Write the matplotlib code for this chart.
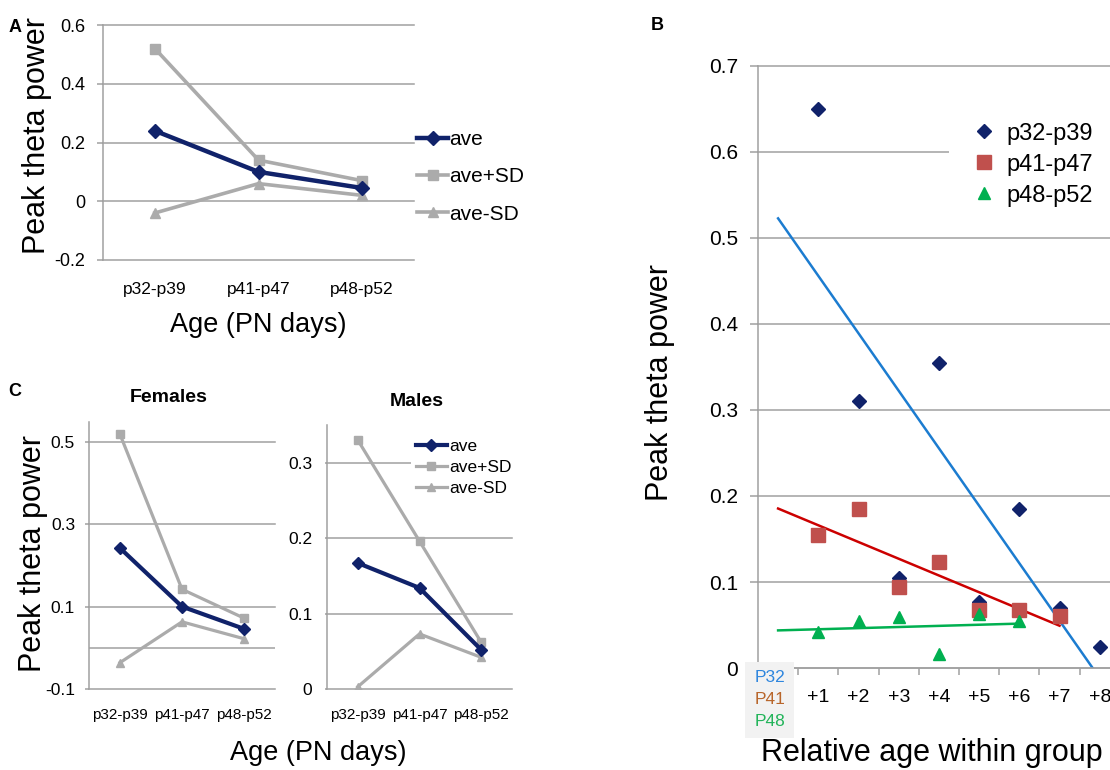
import matplotlib
matplotlib.use('Agg')
import matplotlib.pyplot as plt
from matplotlib import font_manager
from matplotlib.patches import Rectangle
import numpy as np

names = {f.name for f in font_manager.fontManager.ttflist}
MAIN = 'Liberation Sans' if 'Liberation Sans' in names else 'DejaVu Sans'
plt.rcParams['font.family'] = [MAIN, 'DejaVu Sans']

# ---------------- data ----------------
age_groups = ['p32-p39', 'p41-p47', 'p48-p52']
series_names = ['ave', 'ave+SD', 'ave-SD']

a_ave = [0.24, 0.10, 0.045]
a_plus = [0.52, 0.14, 0.07]
a_minus = [-0.04, 0.06, 0.02]

f_ave = [0.242, 0.100, 0.046]
f_plus = [0.518, 0.142, 0.072]
f_minus = [-0.036, 0.063, 0.022]

m_ave = [0.167, 0.134, 0.052]
m_plus = [0.330, 0.196, 0.062]
m_minus = [0.003, 0.073, 0.042]

rel_age_labels = ['+1', '+2', '+3', '+4', '+5', '+6', '+7', '+8']
b_groups = ['p32-p39', 'p41-p47', 'p48-p52']
b_p32_x = [1, 2, 3, 4, 5, 6, 7, 8]
b_p32_y = [0.65, 0.31, 0.105, 0.355, 0.077, 0.185, 0.07, 0.025]
b_p41_x = [1, 2, 3, 4, 5, 6, 7]
b_p41_y = [0.155, 0.185, 0.094, 0.123, 0.068, 0.068, 0.06]
b_p48_x = [1, 2, 3, 4, 5, 6]
b_p48_y = [0.042, 0.055, 0.059, 0.016, 0.063, 0.055]
box_labels = ['P32', 'P41', 'P48']

# ---------------- style ----------------
NAVY = '#10226A'
GREY = '#ABABAB'
GRID = '#A0A0A0'
RED_M = '#C0504D'
GREEN_M = '#00B050'
TREND = ['#1C7CD0', '#CC0000', '#00B050']
BOX_TXT = ['#2E86DE', '#B8652A', '#22B45A']

W, H = 1110, 770
fig = plt.figure(figsize=(W / 100, H / 100), dpi=100)


def ax_at(l, t, r, b):
    return fig.add_axes([l / W, 1 - b / H, (r - l) / W, (b - t) / H])


def fx(x):
    return x / W


def fy(y):
    return 1 - y / H


def line_panel(ax, ave, plus, minus, ylim, yticks, ytick_fs, cat_fs, cat_pad,
               ytick_len, ytick_pad, lw_a, lw_s, ms):
    x = np.arange(len(age_groups)) + 0.5
    ax.plot(x, plus, color=GREY, lw=lw_s, marker='s', ms=ms, mec=GREY, mfc=GREY,
            label=series_names[1], zorder=3)
    ax.plot(x, minus, color=GREY, lw=lw_s, marker='^', ms=ms, mec=GREY, mfc=GREY,
            label=series_names[2], zorder=3)
    ax.plot(x, ave, color=NAVY, lw=lw_a, marker='D', ms=ms * 0.95, mec=NAVY, mfc=NAVY,
            label=series_names[0], zorder=4)
    ax.set_xlim(0, len(age_groups))
    ax.set_ylim(*ylim)
    ax.set_yticks(yticks)
    ax.set_yticklabels([('%g' % v) for v in yticks])
    ax.yaxis.grid(True, color=GRID, lw=1.1)
    for gl in ax.get_ygridlines():
        gl.set_clip_on(False)
    ax.set_axisbelow(True)
    for s in ['top', 'right', 'bottom']:
        ax.spines[s].set_visible(False)
    ax.spines['left'].set_color(GRID)
    ax.spines['left'].set_linewidth(1.1)
    ax.set_xticks(x)
    ax.set_xticklabels(age_groups)
    ax.tick_params(axis='x', length=0, pad=cat_pad, labelsize=cat_fs)
    ax.tick_params(axis='y', length=ytick_len, color=GRID, width=1.1, pad=ytick_pad,
                   labelsize=ytick_fs)
    ax.set_facecolor('none')


# ---------------- Panel A ----------------
axA = ax_at(103, 25, 414, 260)
line_panel(axA, a_ave, a_plus, a_minus, (-0.2, 0.6), [-0.2, 0, 0.2, 0.4, 0.6],
           13, 12.5, 16, 4.3, 8.5, 3.2, 2.6, 7)
hA, lA = axA.get_legend_handles_labels()
order = [2, 0, 1]
axA.legend([hA[i] for i in order], [lA[i] for i in order],
           loc='upper left', bbox_to_anchor=(fx(417), fy(130)),
           bbox_transform=fig.transFigure, frameon=False, borderpad=0,
           borderaxespad=0, handlelength=1.5, handletextpad=0.05,
           labelspacing=0.88, prop={'family': MAIN, 'size': 15})
fig.text(fx(15), fy(28), 'A', fontsize=13, fontweight='bold', ha='center', va='center')
fig.text(fx(37), fy(136), 'Peak theta power', fontsize=22, rotation=90,
         ha='center', va='center')
fig.text(fx(258), fy(325), 'Age (PN days)', fontsize=19.5, ha='center', va='center')

# ---------------- Panel C ----------------
axF = ax_at(89, 422, 275, 689)
line_panel(axF, f_ave, f_plus, f_minus, (-0.1, 0.548), [-0.1, 0.1, 0.3, 0.5],
           12.5, 11, 14, 3, 7, 3.0, 2.3, 6)
axF.axhline(0, color=GRID, lw=1.1, zorder=0.5)

axM = ax_at(327, 425, 512, 689)
line_panel(axM, m_ave, m_plus, m_minus, (0, 0.35), [0, 0.1, 0.2, 0.3],
           12.5, 11, 14, 1.5, 9, 3.0, 2.3, 6)
hM, lM = axM.get_legend_handles_labels()
legM = axM.legend([hM[i] for i in order], [lM[i] for i in order],
                  loc='upper left', bbox_to_anchor=(fx(411), fy(434)),
                  bbox_transform=fig.transFigure, frameon=True, facecolor='white',
                  edgecolor='none', framealpha=1, fancybox=False, borderpad=0.3,
                  borderaxespad=0, handlelength=1.75, handletextpad=0.15,
                  labelspacing=0.32, prop={'family': MAIN, 'size': 12.5})
legM.set_zorder(10)

fig.text(fx(15), fy(392), 'C', fontsize=13, fontweight='bold', ha='center', va='center')
fig.text(fx(169), fy(397), 'Females', fontsize=14, fontweight='bold', ha='center', va='center')
fig.text(fx(417), fy(402), 'Males', fontsize=14, fontweight='bold', ha='center', va='center')
fig.text(fx(33), fy(553), 'Peak theta power', fontsize=22, rotation=90,
         ha='center', va='center')
fig.text(fx(318), fy(753), 'Age (PN days)', fontsize=19.5, ha='center', va='center')

# ---------------- Panel B ----------------
unit = 40.2
axB = ax_at(758, 66, 1110, 668)
axB.set_xlim(-0.5, (1110 - 758) / unit - 0.5)
axB.set_ylim(0, 0.7)
b_yticks = [0, 0.1, 0.2, 0.3, 0.4, 0.5, 0.6, 0.7]
axB.set_yticks(b_yticks)
axB.set_yticklabels([('%g' % v) for v in b_yticks])
axB.yaxis.grid(True, color=GRID, lw=1.1)
for gl in axB.get_ygridlines():
    gl.set_clip_on(False)
axB.set_axisbelow(True)
for s in ['top', 'right']:
    axB.spines[s].set_visible(False)
for s in ['left', 'bottom']:
    axB.spines[s].set_color(GRID)
    axB.spines[s].set_linewidth(1.1)
axB.set_xticks(np.arange(1, len(rel_age_labels) + 1))
axB.set_xticklabels(rel_age_labels)
axB.set_xticks(np.arange(0.5, len(rel_age_labels)), minor=True)
axB.tick_params(axis='x', which='major', length=0, pad=15, labelsize=14)
axB.tick_params(axis='x', which='minor', length=5, color=GRID, width=1.1)
axB.tick_params(axis='y', length=5.5, color=GRID, width=1.1, pad=9, labelsize=15)
axB.set_facecolor('none')

series_b = [(b_p32_x, b_p32_y, 'D', NAVY, 7.5),
            (b_p41_x, b_p41_y, 's', RED_M, 10),
            (b_p48_x, b_p48_y, '^', GREEN_M, 9)]
for (xs, ys, mk, col, ms), lab, tc in zip(series_b, b_groups, TREND):
    axB.plot(xs, ys, ls='none', marker=mk, ms=ms, color=col, mec=col, label=lab, zorder=3)
    coef = np.polyfit(xs, ys, 1)
    xt = np.array([0, max(xs)])
    axB.plot(xt, np.polyval(coef, xt), color=tc, lw=1.8, zorder=2.5)

legB = axB.legend(loc='upper left', bbox_to_anchor=(fx(949), fy(99)),
                  bbox_transform=fig.transFigure, frameon=True, facecolor='white',
                  edgecolor='none', framealpha=1, fancybox=False, borderpad=1.0,
                  borderaxespad=0, handlelength=1.0, handletextpad=0.45,
                  labelspacing=0.38, prop={'family': MAIN, 'size': 17})
legB.set_zorder(10)

fig.text(fx(657), fy(25), 'B', fontsize=13, fontweight='bold', ha='center', va='center')
fig.text(fx(660), fy(382), 'Peak theta power', fontsize=22, rotation=90,
         ha='center', va='center')
fig.text(fx(932), fy(753), 'Relative age within group', fontsize=22,
         ha='center', va='center')

# P32/P41/P48 box
fig.add_artist(Rectangle((fx(745), fy(738)), fx(49), 76 / H, transform=fig.transFigure,
                         facecolor='#F2F2F2', edgecolor='none', zorder=20))
for lab, col, yy in zip(box_labels, BOX_TXT, [678, 700, 721]):
    fig.text(fx(770), fy(yy), lab, color=col, fontsize=12.5, ha='center', va='center',
             zorder=21)

fig.savefig('out.png', dpi=100)
